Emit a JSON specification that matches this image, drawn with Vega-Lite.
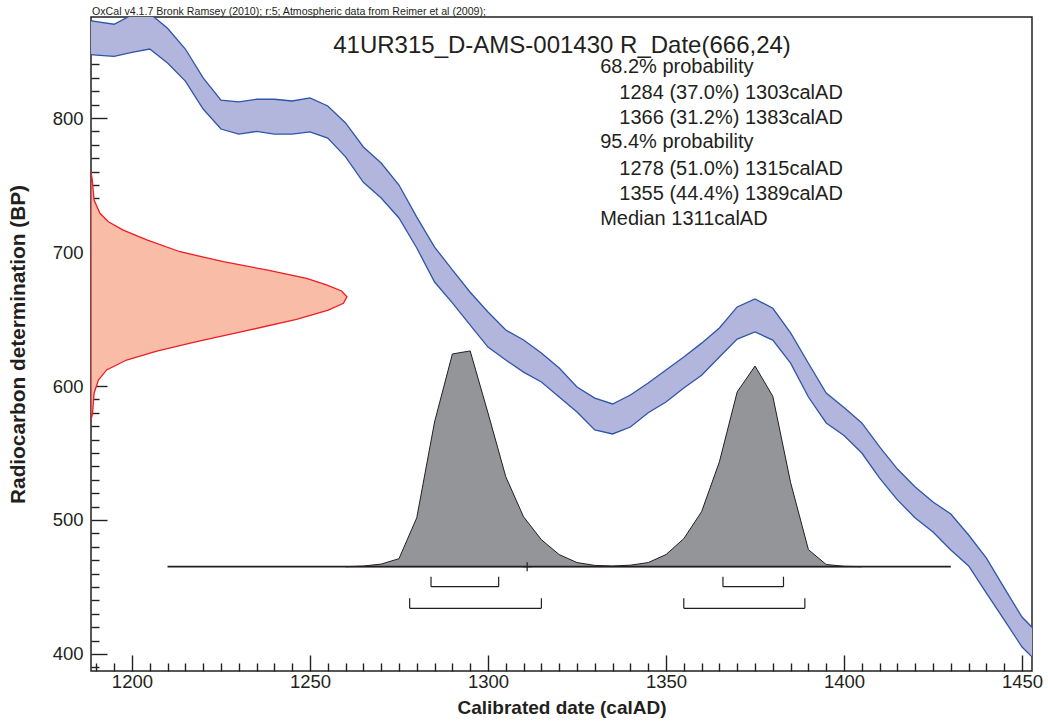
{
  "$schema": "https://vega.github.io/schema/vega-lite/v6.json",
  "width": 941,
  "height": 654,
  "autosize": "none",
  "padding": {"left": 91, "top": 17, "right": 16, "bottom": 50},
  "background": "white",
  "config": {
    "view": {"stroke": "#231f20", "strokeWidth": 1.5},
    "font": "Liberation Sans"
  },
  "datasets": {
    "curve": [
      {"year": 1185, "hi": 874, "lo": 848},
      {"year": 1190, "hi": 872, "lo": 847},
      {"year": 1195, "hi": 870, "lo": 846},
      {"year": 1200, "hi": 877, "lo": 849},
      {"year": 1205, "hi": 878, "lo": 851.5},
      {"year": 1210, "hi": 867, "lo": 841},
      {"year": 1215, "hi": 851.5, "lo": 827.6},
      {"year": 1220, "hi": 830, "lo": 806.7},
      {"year": 1225, "hi": 813.4, "lo": 791.8},
      {"year": 1230, "hi": 812, "lo": 788},
      {"year": 1235, "hi": 814, "lo": 790},
      {"year": 1240, "hi": 814, "lo": 788},
      {"year": 1245, "hi": 812.7, "lo": 788},
      {"year": 1250, "hi": 815, "lo": 789.6},
      {"year": 1255, "hi": 809, "lo": 785},
      {"year": 1260, "hi": 796.3, "lo": 771},
      {"year": 1265, "hi": 778.4, "lo": 752},
      {"year": 1270, "hi": 766.4, "lo": 740.3},
      {"year": 1275, "hi": 750, "lo": 725.4},
      {"year": 1280, "hi": 726, "lo": 703},
      {"year": 1285, "hi": 703.7, "lo": 677.6},
      {"year": 1290, "hi": 686.6, "lo": 662},
      {"year": 1295, "hi": 670, "lo": 645.5},
      {"year": 1300, "hi": 655.2, "lo": 629},
      {"year": 1305, "hi": 641.8, "lo": 619.4},
      {"year": 1310, "hi": 634.3, "lo": 610.4},
      {"year": 1315, "hi": 624.6, "lo": 603},
      {"year": 1320, "hi": 613.4, "lo": 591.8},
      {"year": 1325, "hi": 599.3, "lo": 580.6},
      {"year": 1330, "hi": 591, "lo": 567.2},
      {"year": 1335, "hi": 586.6, "lo": 564.2},
      {"year": 1340, "hi": 593.3, "lo": 569.4},
      {"year": 1345, "hi": 602.2, "lo": 580},
      {"year": 1350, "hi": 612, "lo": 588},
      {"year": 1355, "hi": 621.6, "lo": 598.5},
      {"year": 1360, "hi": 632, "lo": 608},
      {"year": 1365, "hi": 643.3, "lo": 621.6},
      {"year": 1370, "hi": 659, "lo": 635},
      {"year": 1375, "hi": 665, "lo": 640.3},
      {"year": 1380, "hi": 658, "lo": 634.3},
      {"year": 1385, "hi": 639.6, "lo": 617},
      {"year": 1390, "hi": 617, "lo": 591.8},
      {"year": 1395, "hi": 594.8, "lo": 572.4},
      {"year": 1400, "hi": 584, "lo": 563},
      {"year": 1405, "hi": 572.4, "lo": 550},
      {"year": 1410, "hi": 554.5, "lo": 531.3},
      {"year": 1415, "hi": 538, "lo": 515},
      {"year": 1420, "hi": 524.6, "lo": 501.5},
      {"year": 1425, "hi": 513.4, "lo": 491},
      {"year": 1430, "hi": 504.5, "lo": 477.6},
      {"year": 1435, "hi": 488.8, "lo": 465.7},
      {"year": 1440, "hi": 471.6, "lo": 445.5},
      {"year": 1445, "hi": 449.3, "lo": 425.4},
      {"year": 1450, "hi": 427.6, "lo": 405.2},
      {"year": 1455, "hi": 414, "lo": 392}
    ],
    "measurement": [
      {"bp": 759.7, "p": 0},
      {"bp": 753.7, "p": 0.005},
      {"bp": 738.8, "p": 0.012},
      {"bp": 728.9, "p": 0.035},
      {"bp": 722.6, "p": 0.068},
      {"bp": 716.4, "p": 0.126},
      {"bp": 709, "p": 0.218},
      {"bp": 700.2, "p": 0.348},
      {"bp": 692.8, "p": 0.517},
      {"bp": 686.6, "p": 0.686},
      {"bp": 680.4, "p": 0.842},
      {"bp": 675.4, "p": 0.92},
      {"bp": 670.9, "p": 0.979},
      {"bp": 666.6, "p": 1.0},
      {"bp": 661.7, "p": 0.986},
      {"bp": 656.7, "p": 0.927},
      {"bp": 649.8, "p": 0.803},
      {"bp": 641.3, "p": 0.608},
      {"bp": 633.1, "p": 0.413},
      {"bp": 626.1, "p": 0.257},
      {"bp": 619.4, "p": 0.139},
      {"bp": 612, "p": 0.061},
      {"bp": 604.5, "p": 0.029},
      {"bp": 594.6, "p": 0.012},
      {"bp": 579.6, "p": 0.006},
      {"bp": 574.6, "p": 0}
    ],
    "calibrated": [
      {"year": 1260, "prob": 0},
      {"year": 1265, "prob": 0.003},
      {"year": 1270, "prob": 0.012},
      {"year": 1275, "prob": 0.037},
      {"year": 1280, "prob": 0.227},
      {"year": 1285, "prob": 0.671},
      {"year": 1290, "prob": 0.986},
      {"year": 1295, "prob": 1.0},
      {"year": 1300, "prob": 0.713},
      {"year": 1305, "prob": 0.417},
      {"year": 1310, "prob": 0.231},
      {"year": 1315, "prob": 0.125},
      {"year": 1320, "prob": 0.056},
      {"year": 1325, "prob": 0.019},
      {"year": 1330, "prob": 0.006},
      {"year": 1335, "prob": 0.003},
      {"year": 1340, "prob": 0.007},
      {"year": 1345, "prob": 0.019},
      {"year": 1350, "prob": 0.056},
      {"year": 1355, "prob": 0.13},
      {"year": 1360, "prob": 0.255},
      {"year": 1365, "prob": 0.486},
      {"year": 1370, "prob": 0.81},
      {"year": 1375, "prob": 0.93},
      {"year": 1380, "prob": 0.79},
      {"year": 1385, "prob": 0.39},
      {"year": 1390, "prob": 0.079},
      {"year": 1395, "prob": 0.01},
      {"year": 1400, "prob": 0.002},
      {"year": 1405, "prob": 0}
    ],
    "ranges": [
      {"level": "68.2%", "from": 1284, "to": 1303},
      {"level": "68.2%", "from": 1366, "to": 1383},
      {"level": "95.4%", "from": 1278, "to": 1315},
      {"level": "95.4%", "from": 1355, "to": 1389}
    ]
  },
  "layer": [
    {
      "layer": [
        {
          "data": {"name": "curve"},
          "mark": {"type": "area", "fill": "#b2b6dd", "stroke": "#2f55a8", "strokeWidth": 1.3, "clip": true},
          "encoding": {
            "x": {
              "field": "year", "type": "quantitative",
              "scale": {"domain": [1188.5, 1452.8], "nice": false, "zero": false},
              "axis": {
                "values": [1190,1195,1200,1205,1210,1215,1220,1225,1230,1235,1240,1245,1250,1255,1260,1265,1270,1275,1280,1285,1290,1295,1300,1305,1310,1315,1320,1325,1330,1335,1340,1345,1350,1355,1360,1365,1370,1375,1380,1385,1390,1395,1400,1405,1410,1415,1420,1425,1430,1435,1440,1445,1450],
                "tickCount": 500,
                "format": "d",
                "labelExpr": "datum.value % 50 === 0 ? datum.label : ''",
                "tickSize": {"condition": {"test": "datum.value % 50 === 0", "value": -16}, "value": -8},
                "labelPadding": 17,
                "labelFontSize": 18.5,
                "labelColor": "#231f20",
                "labelFont": "Liberation Sans",
                "labelFlush": false,
                "labelOverlap": false,
                "tickColor": "#231f20",
                "tickWidth": 1.4,
                "domain": false,
                "grid": false,
                "title": "Calibrated date (calAD)",
                "titleFontSize": 19,
                "titleFontWeight": "bold",
                "titleFont": "Liberation Sans",
                "titleColor": "#231f20",
                "titlePadding": 0
              }
            },
            "y": {
              "field": "hi", "type": "quantitative",
              "scale": {"domain": [387.3, 875.4], "nice": false, "zero": false},
              "axis": {
                "values": [390,400,410,420,430,440,450,460,470,480,490,500,510,520,530,540,550,560,570,580,590,600,610,620,630,640,650,660,670,680,690,700,710,720,730,740,750,760,770,780,790,800,810,820,830,840,850,860,870],
                "tickCount": 500,
                "format": "d",
                "labelExpr": "datum.value % 100 === 0 ? datum.label : ''",
                "tickSize": {"condition": {"test": "datum.value % 100 === 0", "value": -16}, "value": -8},
                "labelPadding": 24,
                "labelFontSize": 18.5,
                "labelColor": "#231f20",
                "labelFont": "Liberation Sans",
                "labelFlush": false,
                "labelOverlap": false,
                "tickColor": "#231f20",
                "tickWidth": 1.4,
                "domain": false,
                "grid": false,
                "title": "Radiocarbon determination (BP)",
                "titleFontSize": 20.8,
                "titleFontWeight": "bold",
                "titleFont": "Liberation Sans",
                "titleColor": "#231f20",
                "titlePadding": 24
              }
            },
            "y2": {"field": "lo"}
          }
        },
        {
          "data": {"values": [{}]},
          "mark": {"type": "text", "text": "OxCal v4.1.7 Bronk Ramsey (2010); r:5; Atmospheric data from Reimer et al (2009);", "align": "left", "baseline": "alphabetic", "fontSize": 10.6, "font": "Liberation Sans", "color": "#231f20"},
          "encoding": {"x": {"datum": 1188.8}, "y": {"datum": 876.9}}
        },
        {
          "data": {"values": [{}]},
          "mark": {"type": "text", "text": "41UR315_D-AMS-001430 R_Date(666,24)", "align": "center", "baseline": "alphabetic", "fontSize": 24, "font": "Liberation Sans", "color": "#231f20"},
          "encoding": {"x": {"datum": 1320.8}, "y": {"datum": 848.7}}
        },
        {
          "data": {"values": [{}]},
          "mark": {"type": "text", "text": "68.2% probability", "align": "left", "baseline": "alphabetic", "fontSize": 20, "font": "Liberation Sans", "color": "#231f20"},
          "encoding": {"x": {"datum": 1331.5}, "y": {"datum": 833.4}}
        },
        {
          "data": {"values": [{}]},
          "mark": {"type": "text", "text": ["1284 (37.0%) 1303calAD", "1366 (31.2%) 1383calAD"], "align": "left", "baseline": "alphabetic", "fontSize": 20, "lineHeight": 25.3, "font": "Liberation Sans", "color": "#231f20"},
          "encoding": {"x": {"datum": 1336.9}, "y": {"datum": 814.2}}
        },
        {
          "data": {"values": [{}]},
          "mark": {"type": "text", "text": "95.4% probability", "align": "left", "baseline": "alphabetic", "fontSize": 20, "font": "Liberation Sans", "color": "#231f20"},
          "encoding": {"x": {"datum": 1331.5}, "y": {"datum": 777.4}}
        },
        {
          "data": {"values": [{}]},
          "mark": {"type": "text", "text": ["1278 (51.0%) 1315calAD", "1355 (44.4%) 1389calAD"], "align": "left", "baseline": "alphabetic", "fontSize": 20, "lineHeight": 25.3, "font": "Liberation Sans", "color": "#231f20"},
          "encoding": {"x": {"datum": 1336.9}, "y": {"datum": 757.5}}
        },
        {
          "data": {"values": [{}]},
          "mark": {"type": "text", "text": "Median 1311calAD", "align": "left", "baseline": "alphabetic", "fontSize": 20, "font": "Liberation Sans", "color": "#231f20"},
          "encoding": {"x": {"datum": 1331.5}, "y": {"datum": 720.1}}
        }
      ]
    },
    {
      "data": {"name": "measurement"},
      "mark": {"type": "area", "orient": "horizontal", "fill": "#f9bca6", "stroke": "#ee1c25", "strokeWidth": 1.3, "clip": true},
      "encoding": {
        "x": {"field": "p", "type": "quantitative", "scale": {"domain": [0, 3.676], "nice": false, "zero": false}, "axis": null},
        "y": {"field": "bp", "type": "quantitative", "scale": {"domain": [387.3, 875.4], "nice": false, "zero": false}, "axis": null}
      }
    },
    {
      "layer": [
        {
          "data": {"name": "calibrated"},
          "mark": {"type": "area", "fill": "#939598", "stroke": "#231f20", "strokeWidth": 1, "clip": true},
          "encoding": {
            "x": {"field": "year", "type": "quantitative", "scale": {"domain": [1188.5, 1452.8], "nice": false, "zero": false}, "axis": null},
            "y": {"field": "prob", "type": "quantitative", "scale": {"domain": [-0.4836, 2.548], "nice": false, "zero": false}, "axis": null},
            "y2": {"datum": 0}
          }
        },
        {
          "data": {"values": [{}]},
          "mark": {"type": "rule", "stroke": "#231f20", "strokeWidth": 1.6},
          "encoding": {"x": {"datum": 1210}, "x2": {"datum": 1430}, "y": {"datum": 0}}
        },
        {
          "data": {"values": [{}]},
          "mark": {"type": "point", "shape": "M-1,0H1M0,-1V1", "size": 81, "filled": false, "stroke": "#231f20", "strokeWidth": 1.2, "opacity": 1},
          "encoding": {"x": {"datum": 1311}, "y": {"datum": 0}}
        },
        {
          "data": {"name": "ranges"},
          "transform": [{"filter": "datum.level === '68.2%'"}],
          "mark": {"type": "rule", "stroke": "#231f20", "strokeWidth": 1.2},
          "encoding": {"x": {"field": "from", "type": "quantitative"}, "x2": {"field": "to"}, "y": {"datum": -0.0927}}
        },
        {
          "data": {"name": "ranges"},
          "transform": [{"filter": "datum.level === '68.2%'"}, {"fold": ["from", "to"], "as": ["end", "yr"]}],
          "mark": {"type": "rule", "stroke": "#231f20", "strokeWidth": 1.2},
          "encoding": {"x": {"field": "yr", "type": "quantitative"}, "y": {"datum": -0.0927}, "y2": {"datum": -0.0464}}
        },
        {
          "data": {"name": "ranges"},
          "transform": [{"filter": "datum.level === '95.4%'"}],
          "mark": {"type": "rule", "stroke": "#231f20", "strokeWidth": 1.2},
          "encoding": {"x": {"field": "from", "type": "quantitative"}, "x2": {"field": "to"}, "y": {"datum": -0.193}}
        },
        {
          "data": {"name": "ranges"},
          "transform": [{"filter": "datum.level === '95.4%'"}, {"fold": ["from", "to"], "as": ["end", "yr"]}],
          "mark": {"type": "rule", "stroke": "#231f20", "strokeWidth": 1.2},
          "encoding": {"x": {"field": "yr", "type": "quantitative"}, "y": {"datum": -0.193}, "y2": {"datum": -0.1465}}
        }
      ]
    }
  ],
  "resolve": {"scale": {"x": "independent", "y": "independent"}}
}
